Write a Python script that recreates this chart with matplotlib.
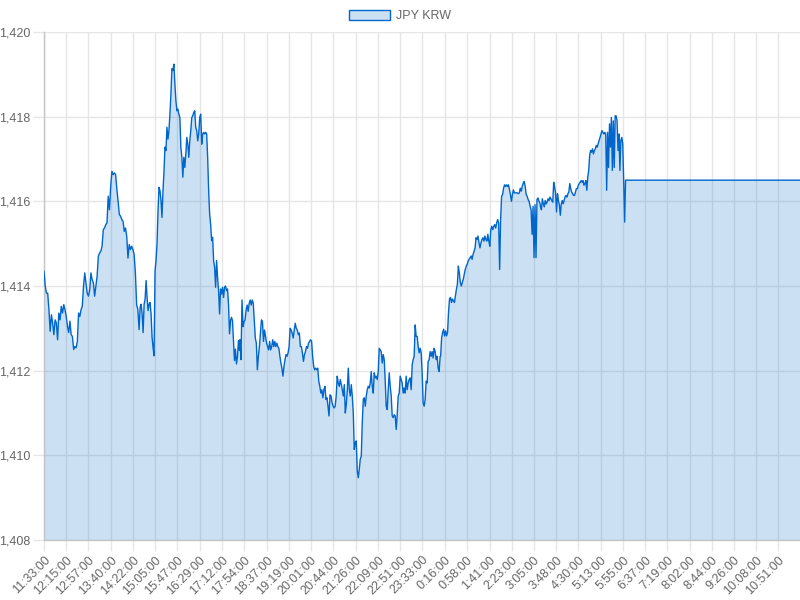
import matplotlib
matplotlib.use("Agg")
import matplotlib.pyplot as plt
from matplotlib.patches import Patch
import numpy as np

plt.rcParams['font.family'] = ['Liberation Sans', 'DejaVu Sans']

series_name = "JPY KRW"

tick_labels = ["11:33:00", "12:15:00", "12:57:00", "13:40:00", "14:22:00", "15:05:00",
               "15:47:00", "16:29:00", "17:12:00", "17:54:00", "18:37:00", "19:19:00",
               "20:01:00", "20:44:00", "21:26:00", "22:09:00", "22:51:00", "23:33:00",
               "0:16:00", "0:58:00", "1:41:00", "2:23:00", "3:05:00", "3:48:00",
               "4:30:00", "5:13:00", "5:55:00", "6:37:00", "7:19:00", "8:02:00",
               "8:44:00", "9:26:00", "10:08:00", "10:51:00"]

y_ticks = [1408, 1410, 1412, 1414, 1416, 1418, 1420]

# rate readings, each block spans a time window (start, end)
rates_1133_1434 = [1414.35, 1414.0, 1413.83, 1413.83, 1413.44, 1412.93, 1413.32, 1413.13, 1412.85, 1413.2,
                   1413.13, 1412.73, 1413.36, 1413.2, 1413.52, 1413.36, 1413.56, 1413.44, 1413.28, 1413.05,
                   1412.9, 1413.17, 1412.85, 1412.81, 1412.5, 1412.57, 1412.54, 1412.69, 1413.36, 1413.28,
                   1413.44, 1413.52, 1414.0, 1414.31, 1414.07, 1413.83, 1413.76, 1413.91, 1414.31, 1414.15,
                   1414.07, 1413.76, 1414.0, 1414.23, 1414.7, 1414.78, 1414.82, 1414.94, 1415.33, 1415.37,
                   1415.45, 1415.49, 1416.12, 1415.8, 1416.35, 1416.71, 1416.63, 1416.67, 1416.63, 1416.28,
                   1416.0, 1415.69, 1415.65, 1415.57, 1415.53, 1415.29, 1415.37, 1415.17, 1414.66, 1414.98,
                   1414.86, 1414.94, 1414.86, 1414.74, 1414.31, 1413.56, 1413.44, 1412.97]
rates_1436_1745 = [1413.5, 1413.57, 1413.34, 1412.9, 1413.57, 1413.69, 1414.13, 1413.73, 1413.42, 1413.57,
                   1413.61, 1413.34, 1412.79, 1412.55, 1412.35, 1414.36, 1414.6, 1414.99, 1415.78, 1416.33,
                   1416.25, 1416.02, 1415.62, 1416.25, 1416.69, 1417.28, 1417.2, 1417.75, 1417.47, 1417.67,
                   1418.06, 1418.54, 1419.13, 1419.09, 1419.24, 1418.77, 1418.38, 1418.14, 1418.18, 1418.06,
                   1417.98, 1417.28, 1417.04, 1416.57, 1417.04, 1416.8, 1417.12, 1417.51, 1417.35, 1417.04,
                   1417.43, 1417.67, 1417.98, 1418.02, 1418.1, 1418.14, 1417.75, 1417.67, 1417.43, 1417.59,
                   1417.98, 1418.06, 1417.35, 1417.59, 1417.63, 1417.59, 1417.63, 1417.59, 1417.04, 1416.25,
                   1415.7, 1415.46, 1415.07, 1415.15, 1414.6, 1414.44, 1413.97, 1414.6, 1414.2, 1413.89,
                   1413.34, 1413.93, 1413.81, 1413.97, 1413.73, 1413.97, 1414.0, 1413.89, 1413.93, 1413.57,
                   1412.87, 1413.18, 1413.26, 1413.18, 1412.71, 1412.24, 1412.51, 1412.16, 1412.32, 1412.71,
                   1412.48]
rates_1746_2055 = [1412.73, 1412.26, 1413.67, 1413.04, 1413.16, 1413.2, 1413.43, 1413.55, 1413.4, 1413.59,
                   1413.67, 1413.55, 1413.67, 1413.59, 1413.2, 1412.77, 1412.65, 1412.02, 1412.34, 1412.57,
                   1412.89, 1413.2, 1413.16, 1412.69, 1412.96, 1412.81, 1412.65, 1412.57, 1412.49, 1412.69,
                   1412.49, 1412.57, 1412.73, 1412.57, 1412.69, 1412.57, 1412.65, 1412.57, 1412.53, 1412.34,
                   1412.18, 1412.06, 1411.87, 1412.1, 1412.26, 1412.38, 1412.34, 1412.42, 1412.57, 1413.0,
                   1412.96, 1412.89, 1412.77, 1412.96, 1413.12, 1413.0, 1412.96, 1412.85, 1412.89, 1412.57,
                   1412.57, 1412.42, 1412.22, 1412.38, 1412.45, 1412.57, 1412.53, 1412.65, 1412.69, 1412.73,
                   1412.69, 1412.34, 1412.1, 1412.02, 1412.06, 1412.02, 1412.06, 1411.75, 1411.63, 1411.47,
                   1411.55, 1411.36, 1411.55, 1411.63, 1411.32, 1411.36, 1411.16, 1410.93, 1411.43, 1411.4,
                   1411.24, 1411.16, 1411.12, 1411.16, 1411.4, 1411.87, 1411.71, 1411.63]
rates_2057_0007 = [1411.79, 1411.67, 1411.55, 1411.4, 1411.67, 1411.0, 1411.2, 1411.55, 1412.06, 1411.55,
                   1411.4, 1411.67, 1411.4, 1411.0, 1410.14, 1410.3, 1410.34, 1409.63, 1409.47, 1409.67,
                   1409.91, 1409.98, 1410.77, 1411.32, 1411.36, 1411.16, 1411.4, 1411.55, 1411.63, 1411.59,
                   1411.71, 1411.98, 1411.63, 1411.47, 1411.95, 1411.83, 1411.87, 1411.79, 1411.98, 1412.53,
                   1412.49, 1412.45, 1412.18, 1412.38, 1412.26, 1411.75, 1411.16, 1411.08, 1411.55, 1411.95,
                   1411.63, 1411.4, 1410.93, 1410.89, 1410.96, 1410.93, 1410.61, 1410.96, 1411.4, 1411.47,
                   1411.87, 1411.79, 1411.71, 1411.47, 1411.59, 1411.47, 1411.87, 1411.55, 1411.71, 1411.79,
                   1411.83, 1411.55, 1412.14, 1412.26, 1412.34, 1413.08, 1412.81, 1412.81, 1412.57, 1412.42,
                   1412.53, 1412.42, 1411.95, 1411.24, 1411.16, 1411.32, 1411.75, 1411.71, 1412.22, 1412.26,
                   1412.45, 1412.34, 1412.45, 1412.3, 1412.53, 1412.45, 1412.26, 1412.34, 1412.06, 1411.98,
                   1412.34]
rates_0008_0317 = [1412.35, 1412.78, 1412.9, 1412.98, 1412.82, 1412.94, 1412.82, 1412.9, 1413.37, 1413.69,
                   1413.73, 1413.61, 1413.69, 1413.65, 1413.61, 1413.76, 1413.92, 1414.04, 1414.47, 1414.31,
                   1414.08, 1414.0, 1414.08, 1414.16, 1414.27, 1414.39, 1414.47, 1414.51, 1414.59, 1414.63,
                   1414.67, 1414.71, 1414.63, 1414.75, 1414.82, 1414.9, 1415.14, 1415.1, 1415.18, 1415.02,
                   1414.9, 1415.02, 1415.1, 1415.14, 1415.06, 1415.18, 1415.1, 1415.06, 1415.22, 1415.06,
                   1414.94, 1415.33, 1415.41, 1415.33, 1415.41, 1415.45, 1415.37, 1415.49, 1415.57, 1415.49,
                   1414.39, 1415.57, 1416.12, 1416.16, 1416.31, 1416.39, 1416.35, 1416.39, 1416.35, 1416.39,
                   1416.27, 1416.16, 1416.0, 1416.16, 1416.27, 1416.2, 1416.2, 1416.2, 1416.2, 1416.18,
                   1416.2, 1416.31, 1416.24, 1416.35, 1416.43, 1416.47, 1416.35, 1416.16, 1416.12, 1416.04,
                   1416.0, 1415.88, 1415.8, 1415.22, 1415.88, 1414.67, 1415.92, 1414.67, 1416.04, 1416.08,
                   1416.0, 1415.96]
rates_0318_0600 = [1415.87, 1415.8, 1416.06, 1415.94, 1415.87, 1416.02, 1415.94, 1415.98, 1416.06, 1416.02,
                   1416.1, 1416.06, 1416.02, 1415.98, 1416.45, 1416.34, 1416.18, 1415.75, 1416.18, 1416.02,
                   1415.91, 1415.67, 1415.94, 1416.02, 1415.94, 1416.02, 1416.1, 1416.14, 1416.1, 1416.18,
                   1416.22, 1416.42, 1416.3, 1416.22, 1416.18, 1416.14, 1416.14, 1416.22, 1416.3, 1416.3,
                   1416.38, 1416.42, 1416.45, 1416.49, 1416.45, 1416.49, 1416.38, 1416.42, 1416.49, 1416.26,
                   1416.57, 1416.73, 1417.08, 1417.2, 1417.16, 1417.24, 1417.12, 1417.2, 1417.24, 1417.32,
                   1417.28, 1417.36, 1417.44, 1417.51, 1417.59, 1417.67, 1417.63, 1417.59, 1417.63, 1417.59,
                   1416.26, 1417.63, 1416.8, 1417.83, 1417.28, 1417.98, 1416.73, 1417.9, 1416.8, 1418.02,
                   1418.02, 1417.9, 1417.2, 1417.59, 1416.73, 1417.44, 1417.51, 1417.36, 1416.49, 1415.51,
                   1416.5]
rates_0601_1132 = [1416.5, 1416.5]

blocks = [("11:33", "14:34", rates_1133_1434),
          ("14:36", "17:45", rates_1436_1745),
          ("17:46", "20:55", rates_1746_2055),
          ("20:57", "0:07", rates_2057_0007),
          ("0:08", "3:17", rates_0008_0317),
          ("3:18", "6:00", rates_0318_0600),
          ("6:01", "11:32", rates_0601_1132)]

START = 11 * 60 + 33


def minutes(label):
    parts = label.split(":")
    m = int(parts[0]) * 60 + int(parts[1])
    return (m - START) % 1440


xs, ys = [], []
for a, b, vals in blocks:
    xs.extend(np.linspace(minutes(a), minutes(b), len(vals)))
    ys.extend(vals)
xs = np.array(xs)
ys = np.array(ys)

line_color = "#0066cc"
fill_rgba = (0.0, 0.4, 0.8, 0.2)
text_color = "#666666"
grid_color = "#e6e6e6"

fig = plt.figure(figsize=(8, 6), dpi=100)
ax = fig.add_axes([44 / 800, 60 / 600, 756 / 800, 508 / 600])

ax.fill_between(xs, ys, 1408, facecolor=fill_rgba, edgecolor="none", linewidth=0, zorder=2)
ax.plot(xs, ys, color=line_color, linewidth=1.0, zorder=3)

ax.set_xlim(0, 1439)
ax.set_ylim(1408, 1420)

tick_pos = [minutes(t) for t in tick_labels]
ax.set_xticks(tick_pos)
ax.set_xticklabels(tick_labels, rotation=45, ha="right", va="top",
                   rotation_mode="anchor", fontsize=9, color=text_color)
ax.set_yticks(y_ticks)
ax.set_yticklabels([f"{v:,}" for v in y_ticks], fontsize=9, color=text_color)

ax.tick_params(axis="both", length=8, width=1, color=grid_color, pad=2)
ax.grid(True, color=grid_color, linewidth=1, zorder=1)
ax.set_axisbelow(True)

for s in ["top", "right"]:
    ax.spines[s].set_visible(False)
ax.spines["left"].set_color("#c4c4c4")
ax.spines["bottom"].set_color("#c4c4c4")
ax.spines["left"].set_linewidth(1)
ax.spines["bottom"].set_linewidth(1)

handle = Patch(facecolor=fill_rgba, edgecolor=line_color, linewidth=1, label=series_name)
leg = fig.legend(handles=[handle], loc="center", bbox_to_anchor=(0.5, 1 - 16 / 600),
                 frameon=False, fontsize=9, handlelength=3.3, handleheight=0.95,
                 handletextpad=0.5, borderaxespad=0)
for t in leg.get_texts():
    t.set_color(text_color)

fig.savefig("out.png", dpi=100)
